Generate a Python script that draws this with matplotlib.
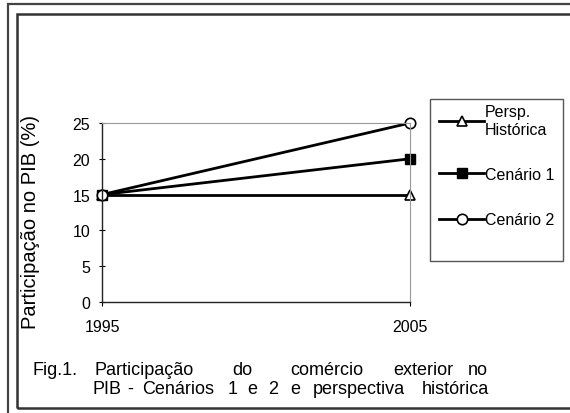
import matplotlib.pyplot as plt
from matplotlib.patches import Rectangle

# data
years = [1995, 2005]
persp_historica = [15, 15]
cenario_1 = [15, 20]
cenario_2 = [15, 25]
y_ticks = [0, 5, 10, 15, 20, 25]

plt.rcParams['font.family'] = ['Liberation Sans', 'DejaVu Sans']

W, H = 570, 414
fig = plt.figure(figsize=(W / 100, H / 100), dpi=100)

# double frame around the whole figure (runs off right/bottom like the scan)
fig.patches.append(Rectangle((8 / W, -0.05), 1.2, 1 - 5 / H + 0.05, transform=fig.transFigure,
                             fill=False, edgecolor='#444444', linewidth=1.6))
fig.patches.append(Rectangle((17 / W, 1 - 409 / H), 1.2, (409 - 15) / H, transform=fig.transFigure,
                             fill=False, edgecolor='#333333', linewidth=1.8))

ax = fig.add_axes([102 / W, 1 - 303 / H, (410 - 102) / W, (303 - 124) / H])

ax.plot(years, persp_historica, color='black', lw=2, marker='^', ms=6.5,
        mfc='white', mec='black', mew=1.2, label='Persp.\nHistórica')
ax.plot(years, cenario_1, color='black', lw=2, marker='s', ms=6.5,
        mfc='black', mec='black', label='Cenário 1')
ax.plot(years, cenario_2, color='black', lw=2, marker='o', ms=7.5,
        mfc='white', mec='black', mew=1.2, label='Cenário 2')

ax.set_xlim(years[0], years[-1])
ax.set_ylim(0, 25)
ax.set_xticks(years)
ax.set_yticks(y_ticks)
ax.tick_params(axis='y', direction='inout', length=5, labelsize=11.5, pad=6)
ax.tick_params(axis='x', direction='out', length=3, labelsize=11.5, pad=9)
for ln in ax.lines:
    ln.set_clip_on(False)

for s in ['top', 'right']:
    ax.spines[s].set_color('#999999')
    ax.spines[s].set_linewidth(0.8)
for s in ['left', 'bottom']:
    ax.spines[s].set_color('#222222')
    ax.spines[s].set_linewidth(1.0)

ax.set_ylabel('Participação no PIB (%)', fontsize=14.5)
ax.yaxis.set_label_coords(-0.20, 0.45)

# legend box
fig.patches.append(Rectangle((430 / W, 1 - 262 / H), 133 / W, 162 / H, transform=fig.transFigure,
                             fill=False, edgecolor='#555555', linewidth=1.0))
fig.legend(loc='upper left', bbox_to_anchor=(436 / W, 1 - 102 / H), frameon=False,
           fontsize=11.5, handlelength=2.8, handletextpad=0.05, labelspacing=1.9,
           borderaxespad=0, borderpad=0.2)

# caption, word by word to mimic the justified, widely spaced original
line1 = [('Fig.1.', 32), ('Participação', 95), ('do', 232), ('comércio', 290),
         ('exterior', 393), ('no', 468)]
line2 = [('PIB', 92), ('-', 127), ('Cenários', 142), ('1', 228), ('e', 247), ('2', 268),
         ('e', 290), ('perspectiva', 313), ('histórica', 422)]
for words, base in [(line1, 375), (line2, 394)]:
    for word, xp in words:
        fig.text(xp / W, 1 - base / H, word, fontsize=13, va='baseline', ha='left')

fig.savefig('out.png', dpi=100)
